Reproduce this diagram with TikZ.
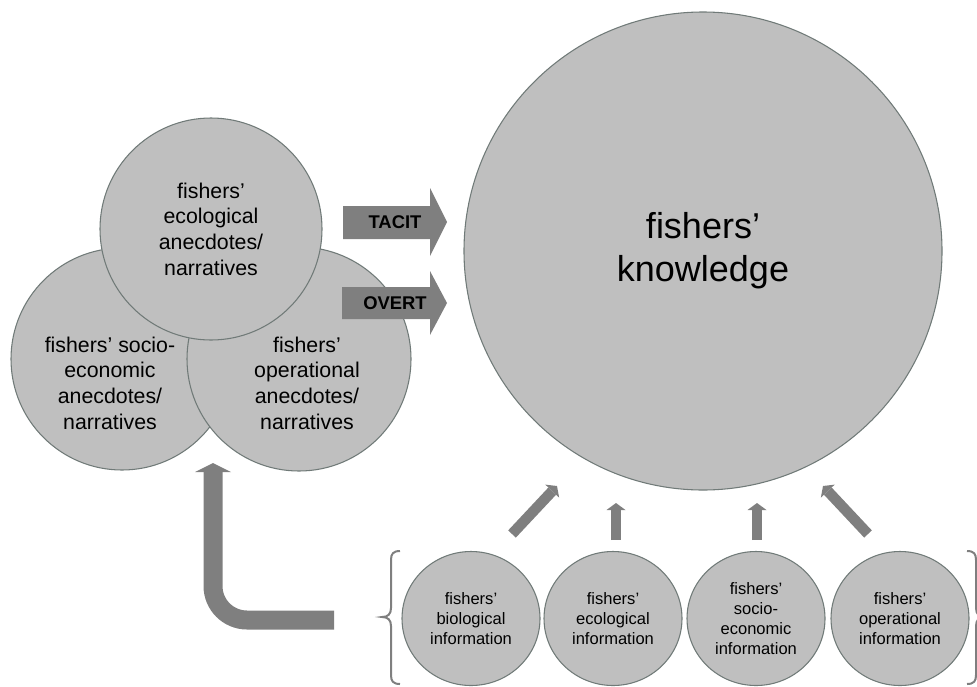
\documentclass[tikz,border=0pt]{standalone}
\usepackage{fontspec}
\setmainfont{Liberation Sans}
\usetikzlibrary{arrows.meta,shapes.geometric}
\definecolor{circfill}{HTML}{BFBFBF}
\definecolor{circline}{HTML}{707A78}
\definecolor{arrfill}{HTML}{7F7F7F}
\begin{document}
\begin{tikzpicture}[x=0.75pt,y=-0.75pt,
  bubble/.style={circle,draw=circline,fill=circfill,line width=0.8pt,inner sep=0pt},
  smallbubble/.style={ellipse,draw=circline,fill=circfill,line width=0.8pt,inner sep=0pt,
    minimum width=103.5pt,minimum height=100.5pt,align=center,
    font=\fontsize{12.4pt}{15pt}\selectfont},
  midtext/.style={align=center,inner sep=0pt,font=\fontsize{16pt}{19.2pt}\selectfont},
  arrowlabel/.style={inner sep=0pt,font=\fontsize{13.8pt}{16pt}\selectfont\bfseries},
  blockarrow/.style={fill=arrfill,draw=none},
  smallarrow/.style={draw=arrfill,line width=7.9pt,
    -{Triangle[width=14.25pt,length=5.25pt,line width=0pt]}},
  bracestyle/.style={draw=arrfill,line width=1.5pt}
]
\useasboundingbox (0,0) rectangle (977,686);
\clip (0,0) rectangle (977,686);

% big circle
\node[bubble,minimum size=358.5pt,align=center,
      font=\fontsize{27pt}{32.3pt}\selectfont] (know) at (703,251) {fishers’\\knowledge};

% left cluster
\node[bubble,minimum size=166.5pt] (soc) at (122,359) {};
\node[bubble,minimum size=168pt] (ope) at (299,359) {};
\node[bubble,minimum size=166.5pt,midtext] (eco) at (211,229) {fishers’\\ecological\\anecdotes/\\narratives};
\node[midtext] (soctext) at (110,383) {fishers’ socio-\\economic\\anecdotes/\\narratives};
\node[midtext] (opetext) at (307,383) {fishers’\\operational\\anecdotes/\\narratives};

% TACIT / OVERT block arrows
\fill[blockarrow] (343,206) -- (430,206) -- (430,188) -- (447,222) -- (430,256)
  -- (430,239) -- (343,239) -- cycle;
\node[arrowlabel] (tacit) at (395,222) {TACIT};
\fill[blockarrow] (342,287) -- (430,287) -- (430,271) -- (447,303) -- (430,335)
  -- (430,319) -- (342,319) -- cycle;
\node[arrowlabel] (overt) at (395,303) {OVERT};

% bottom information circles
\node[smallbubble] (bio) at (471,618.5) {fishers’\\biological\\information};
\node[smallbubble] (ecoinfo) at (613,618.5) {fishers’\\ecological\\information};
\node[smallbubble] (socinfo) at (756,618.5) {fishers’\\socio-\\economic\\information};
\node[smallbubble] (opeinfo) at (900,618.5) {fishers’\\operational\\information};

% small arrows to the big circle
\coordinate (a1s) at (512,534); \coordinate (a1e) at (557,486);
\coordinate (a2s) at (616,540); \coordinate (a2e) at (616,503);
\coordinate (a3s) at (757,540); \coordinate (a3e) at (757,503);
\coordinate (a4s) at (868,534); \coordinate (a4e) at (823,486);
\draw[smallarrow] (a1s) -- (a1e);
\draw[smallarrow] (a2s) -- (a2e);
\draw[smallarrow] (a3s) -- (a3e);
\draw[smallarrow] (a4s) -- (a4e);

% L-shaped feedback arrow
\coordinate (Lstart) at (334,620);
\coordinate (Lend) at (213,463);
\draw[draw=arrfill,line width=14.25pt,rounded corners=25.5pt,
  -{Triangle[width=27pt,length=6.75pt,line width=0pt]}] (Lstart) -| (Lend);

% braces
\draw[bracestyle] (400,551) .. controls (393,551) and (391,554) .. (391,560)
  -- (391,608) .. controls (391,614) and (388,617) .. (382,617)
  .. controls (388,617) and (391,620) .. (391,626)
  -- (391,675) .. controls (391,681) and (393,684) .. (400,684);
\draw[bracestyle] (967,551) .. controls (974,551) and (976,554) .. (976,560)
  -- (976,608) .. controls (976,614) and (979,617) .. (985,617)
  .. controls (979,617) and (976,620) .. (976,626)
  -- (976,675) .. controls (976,681) and (974,684) .. (967,684);
\end{tikzpicture}
\end{document}
